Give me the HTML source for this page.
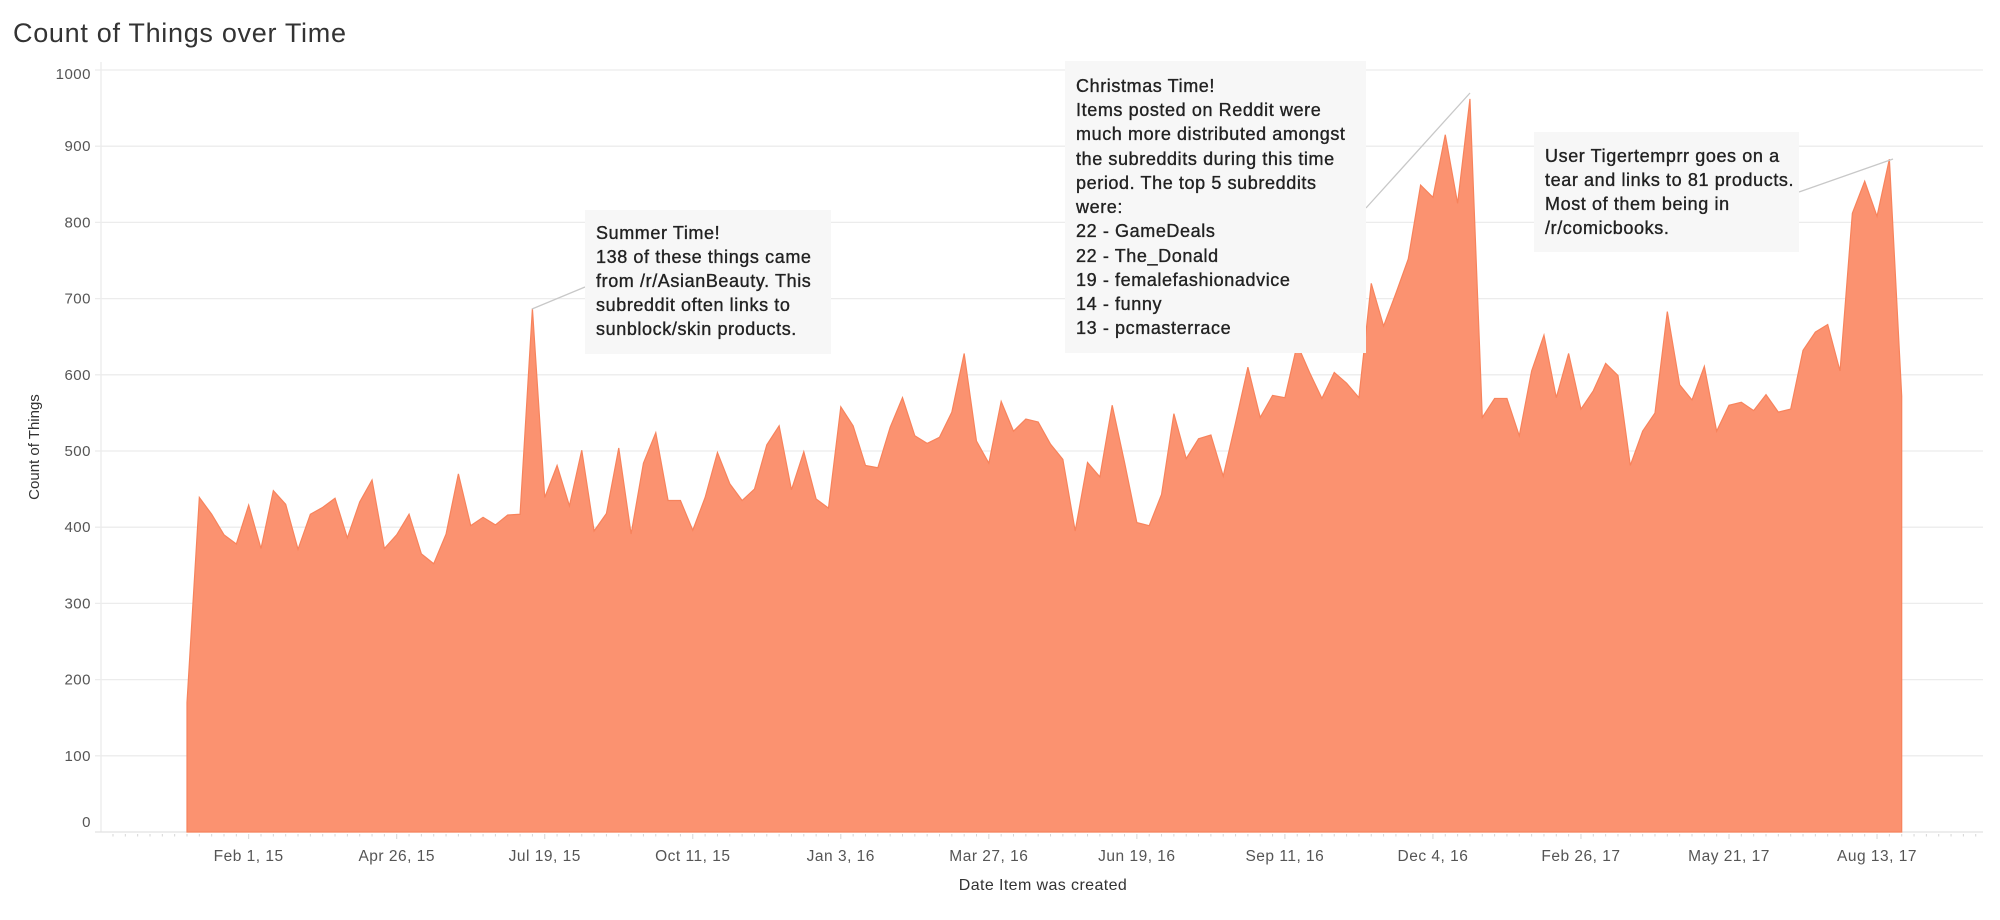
<!DOCTYPE html>
<html>
<head>
<meta charset="utf-8">
<style>
  html,body{margin:0;padding:0;background:#fff;}
  body{width:2000px;height:920px;overflow:hidden;font-family:"Liberation Sans",sans-serif;}
  svg{display:block;}
  .ann{font-size:18px;letter-spacing:0.6px;fill:#222;stroke:#222;stroke-width:0.35px;}
</style>
</head>
<body>
<svg id="chart" width="2000" height="920" viewBox="0 0 2000 920" xmlns="http://www.w3.org/2000/svg">
  <text x="13" y="42" font-family="Liberation Sans, sans-serif" font-size="27" letter-spacing="0.7" fill="#333">Count of Things over Time</text>
  <g id="grid"></g>
  <g id="yaxis"></g>
  <g id="xaxis"></g>
  <g id="area"></g>
  <text transform="translate(39,447) rotate(-90)" text-anchor="middle" font-size="15" fill="#333">Count of Things</text>
  <text x="1043" y="890" text-anchor="middle" font-size="16" letter-spacing="0.4" fill="#333">Date Item was created</text>

  <g>
    <line x1="532" y1="309" x2="585" y2="287" stroke="#c8c8c8" stroke-width="1.3"/>
    <rect x="585" y="210" width="246" height="144" fill="#f7f7f7"/>
    <g class="ann">
      <text x="596" y="239">Summer Time!</text>
      <text x="596" y="263">138 of these things came</text>
      <text x="596" y="287">from /r/AsianBeauty. This</text>
      <text x="596" y="311">subreddit often links to</text>
      <text x="596" y="335">sunblock/skin products.</text>
    </g>
  </g>

  <g>
    <line x1="1366" y1="208" x2="1470" y2="93" stroke="#c8c8c8" stroke-width="1.3"/>
    <rect x="1065" y="61" width="301" height="292" fill="#f7f7f7"/>
    <g class="ann">
      <text x="1076" y="92">Christmas Time!</text>
      <text x="1076" y="116">Items posted on Reddit were</text>
      <text x="1076" y="140">much more distributed amongst</text>
      <text x="1076" y="165">the subreddits during this time</text>
      <text x="1076" y="189">period. The top 5 subreddits</text>
      <text x="1076" y="213">were:</text>
      <text x="1076" y="237">22 - GameDeals</text>
      <text x="1076" y="262">22 - The_Donald</text>
      <text x="1076" y="286">19 - femalefashionadvice</text>
      <text x="1076" y="310">14 - funny</text>
      <text x="1076" y="334">13 - pcmasterrace</text>
    </g>
  </g>

  <g>
    <line x1="1799" y1="192" x2="1893" y2="159" stroke="#c8c8c8" stroke-width="1.3"/>
    <rect x="1534" y="132" width="265" height="120" fill="#f7f7f7"/>
    <g class="ann">
      <text x="1545" y="162">User Tigertemprr goes on a</text>
      <text x="1545" y="186">tear and links to 81 products.</text>
      <text x="1545" y="210">Most of them being in</text>
      <text x="1545" y="234">/r/comicbooks.</text>
    </g>
  </g>
</svg>
<script>
const counts = [
 170,439,417,390,378,429,372,448,430,371,417,426,438,386,433,462,372,390,417,365,352,391,470,402,413,
 403,416,417,687,439,481,428,501,395,418,504,391,484,524,435,435,396,439,498,457,435,450,508,
 533,449,499,437,425,558,533,481,478,531,570,520,510,518,551,628,513,484,565,526,542,538,509,489,
 395,485,466,560,485,406,402,443,549,490,516,521,467,537,610,544,573,570,640,603,569,603,589,
 570,720,664,707,752,849,833,915,825,962,544,569,569,520,605,652,570,628,555,579,615,599,
 481,526,550,683,587,567,611,526,560,564,553,574,551,555,632,656,666,605,812,854,808,883,572
];
const yTicks = [0,100,200,300,400,500,600,700,800,900,1000];
const xTickWeeks = [5,17,29,41,53,65,77,89,101,113,125,137];
const xTickLabels = ["Feb 1, 15","Apr 26, 15","Jul 19, 15","Oct 11, 15","Jan 3, 16","Mar 27, 16","Jun 19, 16","Sep 11, 16","Dec 4, 16","Feb 26, 17","May 21, 17","Aug 13, 17"];

const NS = "http://www.w3.org/2000/svg";
const X0 = 187, DX = 12.336, Y0 = 832, PY = 0.762;
function xs(i){ return X0 + i*DX; }
function ys(v){ return Y0 - v*PY; }
function mk(tag, attrs, parent){
  const e = document.createElementNS(NS, tag);
  for (const k in attrs) e.setAttribute(k, attrs[k]);
  parent.appendChild(e);
  return e;
}
const grid = document.getElementById('grid');
const yaxis = document.getElementById('yaxis');
const xaxis = document.getElementById('xaxis');
const area = document.getElementById('area');

yTicks.forEach(function(v){
  if (v > 0) {
    const gl = mk('line', {x1:95, x2:1983, y1:ys(v), y2:ys(v), stroke:'#ececec', 'stroke-width':1.3}, grid);
    
    
  }
  let dy = 5;
  if (v === 1000) dy = 9;
  if (v === 0) dy = -5;
  const t = mk('text', {x:91, y:ys(v)+dy, 'text-anchor':'end', 'font-size':15, 'letter-spacing':0.5, fill:'#555'}, yaxis);
  t.textContent = v;
  
  
});
const vax = mk('line', {x1:101, x2:101, y1:62, y2:Y0, stroke:'#ececec', 'stroke-width':1.3}, yaxis);


const hax = mk('line', {x1:95, x2:1983, y1:Y0, y2:Y0, stroke:'#e2e2e2', 'stroke-width':1.3}, xaxis);



for (let i = -6; i <= 145; i++) {
  const major = xTickWeeks.indexOf(i) >= 0;
  const tk = mk('line', {x1:xs(i), x2:xs(i), y1:Y0+2, y2:Y0+(major?7:4.5), stroke:'#d6d6d6', 'stroke-width':1}, xaxis);
  
  
}
xTickWeeks.forEach(function(w, k){
  const t = mk('text', {x:xs(w), y:861, 'text-anchor':'middle', 'font-size':15.5, 'letter-spacing':0.5, fill:'#555'}, xaxis);
  t.textContent = xTickLabels[k];
  
  
});

let d = 'M' + xs(0) + ',' + Y0;
counts.forEach(function(v, i){ d += ' L' + xs(i).toFixed(2) + ',' + ys(v).toFixed(2); });
d += ' L' + xs(counts.length-1).toFixed(2) + ',' + Y0 + ' Z';
const p = mk('path', {d:d, fill:'#fb9270', stroke:'#f7835c', 'stroke-width':1.2, 'stroke-linejoin':'miter'}, area);


</script>
</body>
</html>
